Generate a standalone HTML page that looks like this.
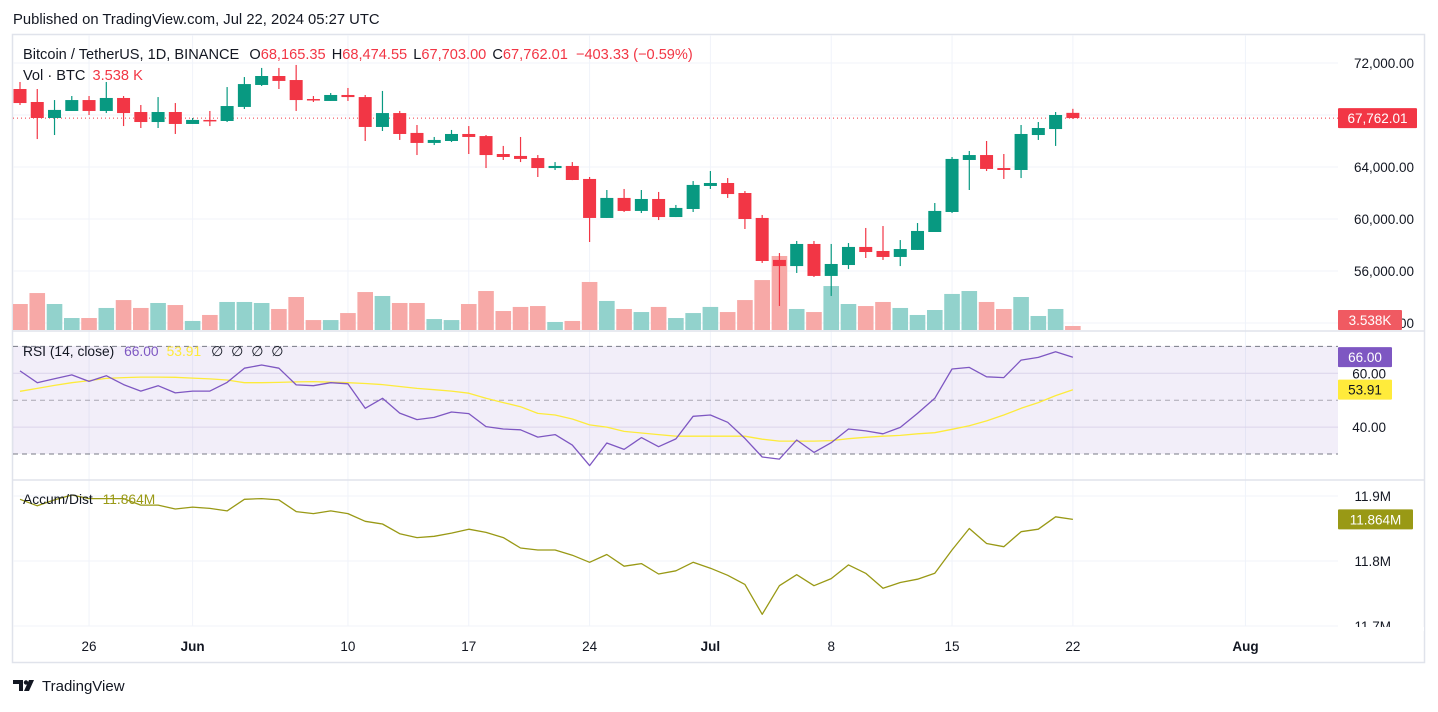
<!DOCTYPE html>
<html><head><meta charset="utf-8"><title>BTCUSDT chart</title>
<style>
html,body{margin:0;padding:0;background:#fff;}
body{width:1438px;height:707px;overflow:hidden;font-family:"Liberation Sans",sans-serif;}
svg text{font-family:"Liberation Sans",sans-serif;}
</style></head>
<body>
<svg id="chart" width="1438" height="707" viewBox="0 0 1438 707" xmlns="http://www.w3.org/2000/svg">
  <rect x="0" y="0" width="1438" height="707" fill="#ffffff"/>
  <text x="13" y="24" font-size="14.8" fill="#131722">Published on TradingView.com, Jul 22, 2024 05:27 UTC</text>
  <rect x="12.5" y="34.5" width="1412" height="628" fill="#fff" stroke="#e0e3eb" stroke-width="1.5"/>
  <defs>
    <clipPath id="cMain"><rect x="13" y="35" width="1325" height="296"/></clipPath>
    <clipPath id="cRsi"><rect x="13" y="331" width="1325" height="149"/></clipPath>
    <clipPath id="cAd"><rect x="13" y="480" width="1325" height="146"/></clipPath>
  </defs>
  <g id="grid"></g>
  <rect x="13" y="346" width="1325" height="108" fill="#7e57c2" fill-opacity="0.1"/>
  <g id="rsiLevels"></g>
  <g id="vol" clip-path="url(#cMain)"></g>
  <g id="candles" clip-path="url(#cMain)"></g>
  <g id="rsi" clip-path="url(#cRsi)"></g>
  <g id="ad" clip-path="url(#cAd)"></g>
  <line x1="13" y1="331" x2="1424" y2="331" stroke="#e0e3eb" stroke-width="1.5"/>
  <line x1="13" y1="480" x2="1424" y2="480" stroke="#e0e3eb" stroke-width="1.5"/>
  <g id="axes"></g>

  <g font-size="14.6">
    <text x="23" y="59" fill="#131722">Bitcoin / TetherUS, 1D, BINANCE
      <tspan dx="6">O</tspan><tspan fill="#f23645">68,165.35</tspan>
      <tspan dx="2">H</tspan><tspan fill="#f23645">68,474.55</tspan>
      <tspan dx="2">L</tspan><tspan fill="#f23645">67,703.00</tspan>
      <tspan dx="2">C</tspan><tspan fill="#f23645">67,762.01</tspan>
      <tspan dx="4" fill="#f23645">−403.33 (−0.59%)</tspan></text>
    <text x="23" y="80" fill="#131722">Vol · BTC <tspan dx="3" fill="#f23645">3.538 K</tspan></text>
  </g>
  <text x="23" y="356" font-size="13.8" fill="#131722">RSI (14, close) <tspan dx="6" fill="#7e57c2">66.00</tspan><tspan dx="8" fill="#ffeb3b">53.91</tspan><tspan dx="10">∅</tspan><tspan dx="8">∅</tspan><tspan dx="8">∅</tspan><tspan dx="8">∅</tspan></text>
  <text x="23" y="504" font-size="13.8" fill="#131722">Accum/Dist <tspan dx="6" fill="#999915">11.864M</tspan></text>

  <g>
    <path d="M13 680 h10 v11 h-4 v-7 h-6 z M24 691 l5 -11 h5 l-5 11 z" fill="#131722"/>
    <circle cx="26" cy="682.5" r="2.2" fill="#131722"/>
    <text x="42" y="691" font-size="15" fill="#131722">TradingView</text>
  </g>
</svg>
<script>
const NS='http://www.w3.org/2000/svg';
// ===== DATA =====
const opens=[70000,69000,67770,68310,69150,68310,69310,68230,67460,68230,67310,67620,67540,68620,70310,71000,70690,69230,69080,69540,69380,67080,68150,66620,65850,66000,66540,66380,65000,64850,64690,63920,64080,63080,60080,61620,60620,61540,60150,60770,62540,62770,62000,60080,56850,56380,58080,55620,56460,57850,57540,57080,57620,59000,60540,64540,64920,63920,63770,66460,66920,68165];
const highs=[70540,70000,69150,69460,69460,70540,69460,68770,69380,68920,67770,68310,70150,70920,71620,71620,71850,69460,69690,70080,69540,69850,68310,67230,66310,66850,67150,66460,65620,66310,64920,64380,64380,63230,62230,62310,62230,62080,61080,62920,63690,63150,62150,60310,57380,58310,58310,58080,58150,59310,59460,58380,59690,61230,64770,65230,66000,65000,67230,67460,68230,68475];
const lows=[68770,66150,66460,68310,68000,68150,67150,67000,67000,66540,67310,67150,67460,68460,70230,70000,68310,69000,69080,69080,66000,66770,66080,64920,65690,65920,65000,63920,64540,64380,63230,63770,62990,58230,60080,60540,60460,59920,60150,60540,62310,61620,59230,56620,53310,55850,55540,54080,56150,57000,56850,56380,57620,59000,60460,62230,63690,63080,63150,66080,65620,67703];
const closes=[68920,67770,68390,69150,68310,69310,68150,67460,68230,67310,67620,67540,68690,70380,71000,70620,69150,69150,69540,69380,67080,68150,66540,65850,66080,66540,66310,64920,64770,64620,63920,64080,63000,60080,61620,60620,61540,60150,60850,62620,62770,61920,60000,56770,56380,58080,55620,56540,57850,57460,57080,57690,59080,60620,64620,64920,63850,63770,66540,67000,68000,67762];
const volumes=[23,32.7,23,10.6,10.6,19.5,26.5,19.5,23.9,22.1,8,13.3,24.8,24.8,23.9,18.6,29.2,8.8,8.8,15,33.6,30.1,23.9,23.9,9.7,8.8,23,34.5,16.8,20.4,21.2,7.1,8,42.5,25.7,18.6,15.9,20.4,10.6,15,20.4,15.9,26.5,44.2,65.5,18.6,15.9,38.9,23,21.2,24.8,19.5,13.3,17.7,31.9,34.5,24.8,18.6,29.2,12.4,18.6,3.538];
const rsiValues=[60.9,56.5,58.0,59.4,57.0,59.1,55.8,53.4,55.4,52.7,53.4,53.4,56.6,61.9,63.1,61.9,55.7,55.4,56.5,56.1,47.0,50.7,45.2,42.8,43.6,45.6,45.0,40.2,39.3,39.0,36.3,37.2,33.3,25.7,34.1,31.7,36.1,32.7,35.6,44.0,44.5,41.8,35.8,28.9,28.1,35.2,30.6,34.2,39.3,38.6,37.5,39.9,45.1,50.7,61.6,62.2,58.7,58.4,64.9,65.9,68.0,66.0];
const rsiMaValues=[53.3,54.4,55.5,56.5,57.3,58.1,58.4,58.6,58.6,58.5,58.2,57.9,57.5,56.5,56.5,56.6,56.8,56.9,56.7,56.5,56.2,55.8,55.1,54.4,53.9,53.4,52.6,50.7,49.1,47.6,45.1,44.5,43.0,40.8,40.0,38.4,37.8,37.2,36.6,36.6,36.6,36.6,36.6,35.5,34.8,34.8,34.8,35.0,35.7,36.2,36.6,36.9,37.5,37.9,39.2,40.5,42.3,44.5,47.0,49.1,51.7,53.91];
const adValues=[11.895,11.885,11.894,11.9015,11.896,11.896,11.896,11.886,11.886,11.880,11.883,11.881,11.877,11.895,11.896,11.894,11.876,11.873,11.877,11.873,11.861,11.857,11.842,11.836,11.838,11.843,11.849,11.844,11.836,11.820,11.817,11.817,11.809,11.798,11.810,11.792,11.796,11.780,11.785,11.798,11.789,11.778,11.764,11.718,11.762,11.779,11.762,11.773,11.794,11.781,11.758,11.767,11.772,11.781,11.817,11.850,11.827,11.822,11.845,11.849,11.868,11.864];
const priceTicks=[72000,68000,64000,60000,56000,52000];
const priceTickLabels=['72,000.00','','64,000.00','60,000.00','56,000.00','52,000.00'];
const rsiTicks=[60,40];
const rsiTickLabels=['60.00','40.00'];
const rsiLevels=[70,50,30];
const adTicks=[11.9,11.8,11.7];
const adTickLabels=['11.9M','11.8M','11.7M'];
const dateIndex=[4,10,19,26,33,40,47,54,61,71];
const dateLabels=['26','Jun','10','17','24','Jul','8','15','22','Aug'];
const dateBold=[false,true,false,false,false,true,false,false,false,true];
const lastPriceLabel='67,762.01', lastVolLabel='3.538K', lastRsiLabel='66.00', lastMaLabel='53.91', lastAdLabel='11.864M';

// ===== AXES =====
const X0=20, DX=17.26;
const xOf=i=>X0+i*DX;
const yP=p=>63+(72000-p)*0.013;
const VB=330, VK=1.13;
const yV=v=>VB-v*VK;
const yR=r=>400.2-(r-50)*2.69;
const yA=a=>496+(11.9-a)*650;
const GREEN='#089981', RED='#f23645';

function mk(tag,attrs,parent){const e=document.createElementNS(NS,tag);for(const k in attrs)e.setAttribute(k,attrs[k]);parent.appendChild(e);return e;}
const grid=document.getElementById('grid');
const axes=document.getElementById('axes');

dateIndex.forEach((d,i)=>{
  const l=mk('line',{x1:xOf(d),x2:xOf(d),y1:35,y2:626,stroke:'#f0f3fa','stroke-width':1},grid);
  
  
  const t=mk('text',{x:xOf(d),y:651,'text-anchor':'middle','font-size':13.5,fill:'#131722','font-weight':dateBold[i]?'bold':'normal'},axes);
  t.textContent=dateLabels[i];
  
  
});
priceTicks.forEach((p,i)=>{
  const l=mk('line',{x1:13,x2:1338,y1:yP(p),y2:yP(p),stroke:'#f0f3fa','stroke-width':1},grid);
  
  
  if(priceTickLabels[i]){
    const t=mk('text',{x:1414,y:yP(p)+5,'text-anchor':'end','font-size':13.5,fill:'#131722'},axes);
    t.textContent=priceTickLabels[i];
    
    
  }
});
rsiTicks.forEach((r,i)=>{
  const l=mk('line',{x1:13,x2:1338,y1:yR(r),y2:yR(r),stroke:'#e6e3ef','stroke-width':1},grid);
  
  
  const t=mk('text',{x:1386,y:yR(r)+5,'text-anchor':'end','font-size':13.5,fill:'#131722'},axes);
  t.textContent=rsiTickLabels[i];
  
  
});
adTicks.forEach((a,i)=>{
  const l=mk('line',{x1:13,x2:1338,y1:yA(a),y2:yA(a),stroke:'#f0f3fa','stroke-width':1},grid);
  
  
  const t=mk('text',{x:1391,y:yA(a)+5,'text-anchor':'end','font-size':13.5,fill:'#131722'},axes);
  t.textContent=adTickLabels[i];
  
  
});
mk('rect',{x:1338,y:627,width:86,height:4,fill:'#fff'},axes);
const rl=document.getElementById('rsiLevels');
rsiLevels.forEach(r=>{
  const l=mk('line',{x1:13,x2:1338,y1:yR(r),y2:yR(r),stroke:r===50?'#a9a7b3':'#787b86','stroke-width':1,'stroke-dasharray':'5,4'},rl);
  
  
});

const vg=document.getElementById('vol');
volumes.forEach((v,i)=>{
  const up=closes[i]>=opens[i];
  const r=mk('rect',{x:xOf(i)-7.8,y:yV(v),width:15.6,height:VB-yV(v),fill:up?'#92d2cc':'#f7a9a7'},vg);
  
  
});
const pl=mk('line',{x1:13,x2:1338,y1:yP(closes[closes.length-1]),y2:yP(closes[closes.length-1]),stroke:RED,'stroke-width':1,'stroke-dasharray':'1,3'},document.getElementById('candles'));


const cg=document.getElementById('candles');
opens.forEach((o,i)=>{
  const c=closes[i], up=c>=o, col=up?GREEN:RED, x=xOf(i);
  const g=mk('g',{},cg);
  
  
  mk('line',{x1:x,x2:x,y1:yP(highs[i]),y2:yP(lows[i]),stroke:col,'stroke-width':1.2},g);
  const top=yP(Math.max(o,c)), bot=yP(Math.min(o,c));
  mk('rect',{x:x-6.5,y:top,width:13,height:Math.max(1.5,bot-top),fill:col},g);
});
function poly(vals,fy,col,w,parent,name){
  const pts=vals.map((v,i)=>xOf(i).toFixed(1)+','+fy(v).toFixed(1)).join(' ');
  const p=mk('polyline',{points:pts,fill:'none',stroke:col,'stroke-width':w,'stroke-linejoin':'round'},parent);
  
  
}
const rg=document.getElementById('rsi');
poly(rsiMaValues,yR,'#fdeb3b',1.3,rg,'rsi-ma-line');
poly(rsiValues,yR,'#7e57c2',1.3,rg,'rsi-line');
poly(adValues,yA,'#999915',1.3,document.getElementById('ad'),'accum-dist-line');

function badge(y,label,bg,fg,w,name){
  const g=mk('g',{},axes);
  
  
  mk('rect',{x:1338,y:y-10,width:w,height:20,fill:bg,rx:1},g);
  const t=mk('text',{x:1338+w/2,y:y+5,'text-anchor':'middle','font-size':13.5,fill:fg},g);
  t.textContent=label;
}
badge(yP(closes[closes.length-1]),lastPriceLabel,RED,'#fff',79,'last-price-badge');
badge(320,lastVolLabel,'#f05a62','#fff',64,'volume-badge');
badge(yR(rsiValues[rsiValues.length-1]),lastRsiLabel,'#7e57c2','#fff',54,'rsi-badge');
badge(yR(rsiMaValues[rsiMaValues.length-1]),lastMaLabel,'#ffeb3b','#131722',54,'rsi-ma-badge');
badge(yA(adValues[adValues.length-1]),lastAdLabel,'#999915','#fff',75,'accum-dist-badge');
</script>
</body></html>
